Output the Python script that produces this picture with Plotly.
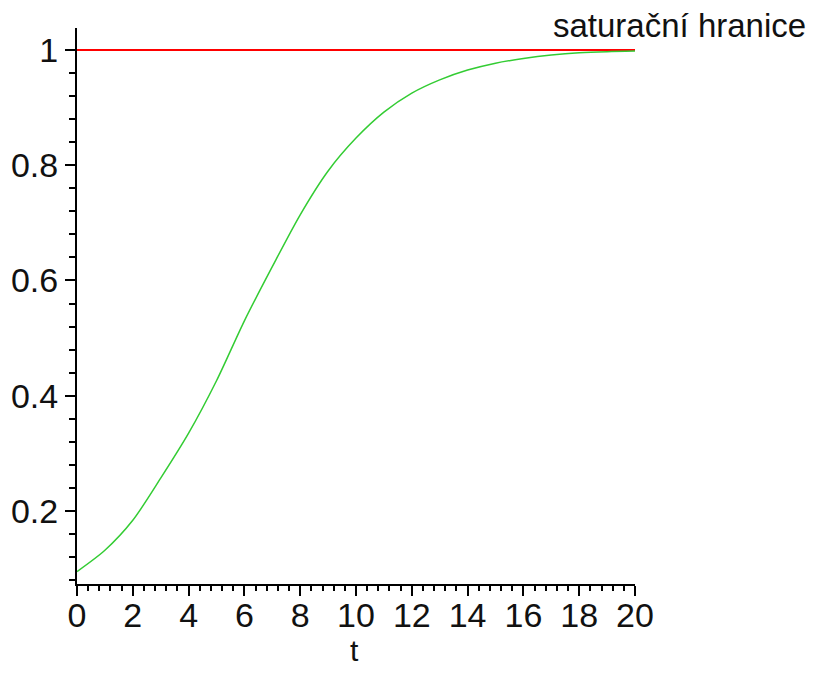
import plotly.graph_objects as go

# data
t_values = [0, 1, 2, 3, 4, 5, 6, 7, 8, 9, 10, 11, 12, 13, 14, 15, 16, 17, 18, 19, 20]
y_values = [0.095, 0.132, 0.184, 0.257, 0.335, 0.426, 0.530, 0.624, 0.714, 0.790,
            0.847, 0.892, 0.925, 0.948, 0.965, 0.977, 0.985, 0.991, 0.995, 0.997, 0.998]
limit_t = [0, 20]
limit_y = [1, 1]
x_ticks = [0, 2, 4, 6, 8, 10, 12, 14, 16, 18, 20]
y_ticks = [0.2, 0.4, 0.6, 0.8, 1]
y_tick_labels = ["0.2", "0.4", "0.6", "0.8", "1"]
label_text = "saturační hranice"
x_title = "t"

FONT = "Liberation Sans, Arial, sans-serif"

fig = go.Figure()
fig.add_trace(go.Scatter(x=limit_t, y=limit_y, mode="lines",
                         line=dict(color="#ff0000", width=2), showlegend=False))
fig.add_trace(go.Scatter(x=t_values, y=y_values, mode="lines",
                         line=dict(color="#33cc33", width=1.5, shape="spline", smoothing=0.8),
                         showlegend=False))

fig.add_annotation(x=1.31, xref="paper", y=1.004, yref="paper", text=label_text,
                   showarrow=False, xanchor="right", yanchor="middle",
                   font=dict(family=FONT, size=33, color="#111111"))
fig.add_annotation(x=0.498, xref="paper", y=-0.1205, yref="paper", text=x_title,
                   showarrow=False, xanchor="center", yanchor="middle",
                   font=dict(family=FONT, size=30, color="#111111"))

axis_common = dict(showline=True, linecolor="black", linewidth=2, showgrid=False,
                   zeroline=False, ticks="outside", ticklen=10, tickwidth=2,
                   automargin=False,
                   tickcolor="black", tickfont=dict(family=FONT, size=34, color="#111111"))

fig.update_xaxes(range=[0, 20], tickvals=x_ticks, **axis_common, ticklabelstandoff=-10,
                 minor=dict(dtick=0.4, tick0=0, ticklen=5, tickwidth=2,
                            tickcolor="black", ticks="outside", showgrid=False))
fig.update_yaxes(range=[0.0734, 1.038], tickvals=y_ticks, ticktext=y_tick_labels,
                 **axis_common,
                 minor=dict(dtick=0.04, tick0=0, ticklen=6, tickwidth=2,
                            tickcolor="black", ticks="outside", showgrid=False))

# the page adds an 8px body margin, so the figure is sized to fit inside it
fig.update_layout(width=801, height=661, margin=dict(l=69, r=174, t=20, b=85),
                  plot_bgcolor="white", paper_bgcolor="white")

fig.write_html("out.html")
